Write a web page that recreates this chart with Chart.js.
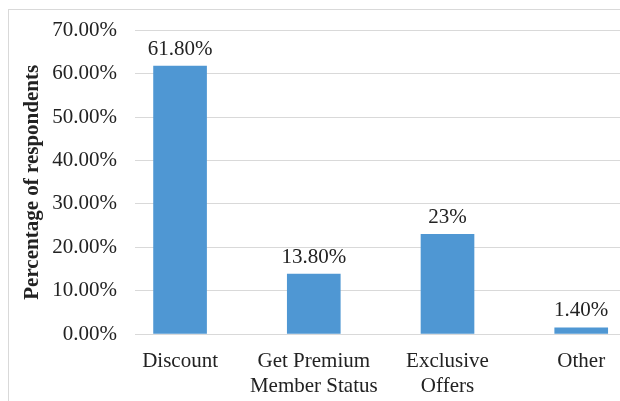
<!DOCTYPE html>
<html>
<head>
<meta charset="utf-8">
<script src="https://cdn.jsdelivr.net/npm/chart.js@4"></script>
<style>
    html, body { margin: 0; padding: 0; background: #fff; overflow: hidden; }
    #frame {
        position: absolute; left: 8px; top: 9px; width: 700px; height: 500px;
        border: 1px solid #d9d9d9; box-sizing: border-box;
    }
    #chart { position: absolute; left: 0; top: 0; }
</style>
</head>
<body>
<div id="frame"></div>
<canvas id="chart" width="620" height="401"></canvas>
<script>
// Reasons for joining
var categories = [['Discount'], ['Get Premium', 'Member Status'], ['Exclusive', 'Offers'], ['Other']];
var percentages = [61.8, 13.8, 23, 1.4];
var labelDecimals = [2, 2, 0, 2];
var yTicks = [0, 10, 20, 30, 40, 50, 60, 70];

var textColor = '#222';
var serif = '"Liberation Serif", "Times New Roman", serif';

// value labels above each bar
var barValueLabels = {
    id: 'barValueLabels',
    afterDatasetsDraw: function (chart) {
        var ctx = chart.ctx;
        var meta = chart.getDatasetMeta(0);
        ctx.save();
        ctx.font = '21px ' + serif;
        ctx.fillStyle = textColor;
        ctx.textAlign = 'center';
        ctx.textBaseline = 'middle';
        meta.data.forEach(function (bar, i) {
            var text = percentages[i].toFixed(labelDecimals[i]) + '%';
            ctx.fillText(text, bar.x, bar.y - 17);
        });
        ctx.restore();
    }
};

var ctx = document.getElementById('chart').getContext('2d');
var chart = new Chart(ctx, {
    type: 'bar',
    data: {
        datasets: [{
            data: percentages.map(function (v, i) { return { x: i, y: v }; }),
            backgroundColor: '#4f97d3',
            borderWidth: 0,
            barThickness: 53
        }]
    },
    options: {
        responsive: false,
        animation: false,
        layout: { padding: { top: 30, left: 0, right: 0, bottom: 0 } },
        plugins: {
            legend: { display: false },
            tooltip: { enabled: false }
        },
        scales: {
            x: {
                type: 'linear',
                offset: false,
                min: -0.337,
                max: 3.29,
                grid: { display: false },
                border: { display: false },
                afterBuildTicks: function (scale) {
                    scale.ticks = categories.map(function (c, i) { return { value: i }; });
                },
                afterFit: function (scale) { scale.height = 67; },
                ticks: {
                    autoSkip: false,
                    maxRotation: 0,
                    padding: 7,
                    color: textColor,
                    font: { family: serif, size: 21, lineHeight: 1.2 },
                    callback: function (v) { return categories[v]; }
                }
            },
            y: {
                min: 0,
                max: 70,
                afterBuildTicks: function (scale) {
                    scale.ticks = yTicks.map(function (v) { return { value: v }; });
                },
                afterFit: function (scale) { scale.width = 135; },
                grid: { color: '#d9d9d9', lineWidth: 1, drawTicks: false },
                border: { display: false },
                ticks: {
                    padding: 18,
                    color: textColor,
                    font: { family: serif, size: 21 },
                    callback: function (v) { return v.toFixed(2) + '%'; }
                },
                title: {
                    display: true,
                    text: 'Percentage of respondents',
                    color: textColor,
                    padding: { top: 20, bottom: 0 },
                    font: { family: serif, size: 21, weight: 'bold', lineHeight: 1.2 }
                }
            }
        }
    },
    plugins: [barValueLabels]
});
</script>
</body>
</html>
